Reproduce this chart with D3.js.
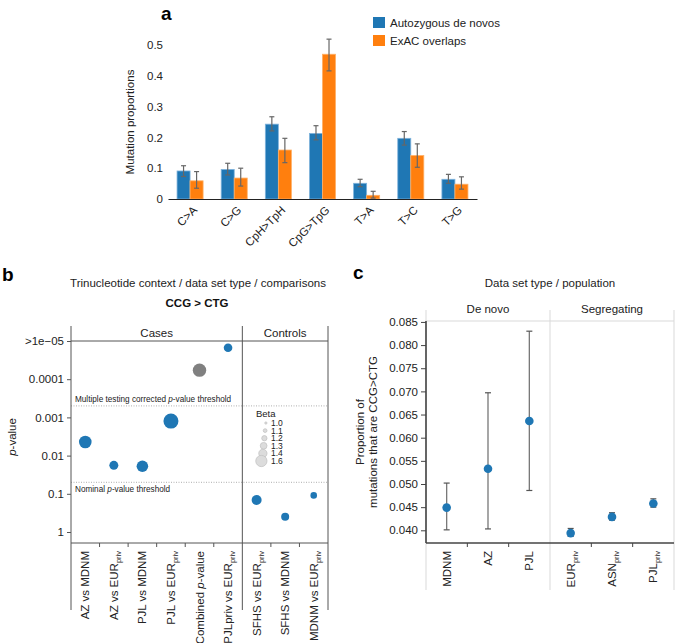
<!DOCTYPE html>
<html>
<head>
<meta charset="utf-8">
<script src="https://cdn.jsdelivr.net/npm/d3@7"></script>
<style>
body { margin: 0; background: #fff; }
svg { display: block; font-family: "Liberation Sans", Arial, Helvetica, sans-serif; }
</style>
</head>
<body>
<svg id="chart" width="675" height="643"></svg>
<script>
// ---------- Panel a data ----------
const mutCategories = ["C>A", "C>G", "CpH>TpH", "CpG>TpG", "T>A", "T>C", "T>G"];
const seriesNames = ["Autozygous de novos", "ExAC overlaps"];
const autozygous   = [0.091, 0.096, 0.243, 0.213, 0.051, 0.197, 0.064];
const autozygousLo = [0.073, 0.078, 0.221, 0.192, 0.040, 0.175, 0.051];
const autozygousHi = [0.108, 0.116, 0.267, 0.238, 0.064, 0.219, 0.080];
const exac   = [0.059, 0.068, 0.159, 0.470, 0.012, 0.141, 0.048];
const exacLo = [0.035, 0.042, 0.118, 0.416, 0.003, 0.103, 0.032];
const exacHi = [0.089, 0.100, 0.197, 0.519, 0.025, 0.179, 0.072];
const aTicks = [0, 0.1, 0.2, 0.3, 0.4, 0.5];

// ---------- Panel b data ----------
const comparisons = ["AZ vs MDNM", "AZ vs EURpriv", "PJL vs MDNM", "PJL vs EURpriv", "Combined p-value",
                     "PJLpriv vs EURpriv", "SFHS vs EURpriv", "SFHS vs MDNM", "MDNM vs EURpriv"];
const comparisonGroup = ["Cases", "Cases", "Cases", "Cases", "Cases", "Cases", "Controls", "Controls", "Controls"];
const pValues = [0.0044, 0.018, 0.019, 0.00125, 5.8e-5, 1.5e-5, 0.145, 0.40, 0.11];
const betas   = [1.48, 1.30, 1.43, 1.60, 1.52, 1.28, 1.35, 1.25, 1.18];
const isCombined = [false, false, false, false, true, false, false, false, false];
const pTicks = [1e-5, 1e-4, 1e-3, 1e-2, 1e-1, 1];
const pTickLabels = [">1e\u221205", "0.0001", "0.001", "0.01", "0.1", "1"];
const betaLegend = [1.0, 1.1, 1.2, 1.3, 1.4, 1.6];
const multipleThreshold = 0.0005;
const nominalThreshold = 0.05;

// ---------- Panel c data ----------
const populations = ["MDNM", "AZ", "PJL", "EURpriv", "ASNpriv", "PJLpriv"];
const popGroup = ["De novo", "De novo", "De novo", "Segregating", "Segregating", "Segregating"];
const propValues = [0.0449, 0.0533, 0.0636, 0.0394, 0.0429, 0.0458];
const propLo     = [0.0401, 0.0403, 0.0486, 0.0387, 0.0422, 0.0450];
const propHi     = [0.0502, 0.0697, 0.0830, 0.0404, 0.0438, 0.0468];
const cTicks = [0.040, 0.045, 0.050, 0.055, 0.060, 0.065, 0.070, 0.075, 0.080, 0.085];

const BLUE = "#1f77b4", ORANGE = "#ff7f0e", GRAY = "#808080";
const svg = d3.select("#chart");

// helper: write a label where trailing "priv" becomes a subscript
function labelWithSub(sel, label, mainSize, subSize) {
  const m = label.match(/^(.*?)(EUR|ASN|PJL)priv$/);
  const parts = m ? [{t: m[1] + m[2], sub: false}, {t: "priv", sub: true}] : [{t: label, sub: false}];
  parts.forEach(p => {
    const ts = sel.append("tspan").text(p.t);
    if (p.sub) ts.attr("font-size", subSize).attr("dy", 3);
  });
}

// ================= Panel a =================
(function () {
  const g = svg.append("g");
  g.append("text").attr("x", 161).attr("y", 20).attr("font-size", 19).attr("font-weight", "bold").text("a");

  const x = d3.scaleBand().domain(mutCategories).range([168, 477]).paddingInner(0.41).paddingOuter(0.205);
  const x1 = d3.scaleBand().domain(seriesNames).range([0, x.bandwidth()]);
  const y = d3.scaleLinear().domain([0, 0.5]).range([199, 45]);

  const yAxis = g.append("g").attr("transform", "translate(168,0)")
    .call(d3.axisLeft(y).tickValues(aTicks).tickSize(0).tickPadding(5).tickFormat(d => d === 0 ? "0" : d3.format(".1f")(d)));
  yAxis.select(".domain").remove();
  yAxis.selectAll("text").attr("font-size", 11.5).attr("fill", "#222").attr("font-family", null);

  g.append("text").attr("transform", "translate(134,122) rotate(-90)").attr("text-anchor", "middle")
    .attr("font-size", 11.5).attr("fill", "#222").text("Mutation proportions");

  const series = [
    {name: seriesNames[0], vals: autozygous, lo: autozygousLo, hi: autozygousHi, color: BLUE, stroke: "#7fb3dc"},
    {name: seriesNames[1], vals: exac, lo: exacLo, hi: exacHi, color: ORANGE, stroke: "#ffb066"}
  ];
  series.forEach(s => {
    mutCategories.forEach((c, i) => {
      const bx = x(c) + x1(s.name);
      g.append("rect").attr("x", bx).attr("y", y(s.vals[i])).attr("width", x1.bandwidth())
        .attr("height", y(0) - y(s.vals[i])).attr("fill", s.color).attr("stroke", s.stroke).attr("stroke-width", 0.8);
      const cx = bx + x1.bandwidth() / 2;
      g.append("line").attr("x1", cx).attr("x2", cx).attr("y1", y(s.lo[i])).attr("y2", y(s.hi[i]))
        .attr("stroke", "#666").attr("stroke-width", 1.2);
      [s.lo[i], s.hi[i]].forEach(v => g.append("line").attr("x1", cx - 2.5).attr("x2", cx + 2.5)
        .attr("y1", y(v)).attr("y2", y(v)).attr("stroke", "#666").attr("stroke-width", 1.2));
    });
  });

  const xAxis = g.append("g").attr("transform", "translate(0,199)")
    .call(d3.axisBottom(x).tickSize(0).tickPadding(0));
  xAxis.select(".domain").attr("stroke", "#222").attr("stroke-width", 1.2);
  xAxis.selectAll("text").attr("font-size", 11.5).attr("fill", "#222").attr("font-family", null)
    .attr("text-anchor", "end").attr("dy", null).attr("y", 0)
    .attr("transform", "translate(5,9) rotate(-45)").attr("dominant-baseline", "central");

  // legend
  series.forEach((s, i) => {
    g.append("rect").attr("x", 373).attr("y", 17 + i * 18).attr("width", 12).attr("height", 11).attr("fill", s.color);
    g.append("text").attr("x", 390).attr("y", 27 + i * 18).attr("font-size", 11.5).attr("fill", "#222").text(s.name);
  });
})();

// ================= Panel b =================
(function () {
  const g = svg.append("g");
  g.append("text").attr("x", 2).attr("y", 281).attr("font-size", 19).attr("font-weight", "bold").text("b");
  g.append("text").attr("x", 198).attr("y", 287).attr("text-anchor", "middle").attr("font-size", 11.5)
    .attr("fill", "#222").text("Trinucleotide context / data set type / comparisons");
  g.append("text").attr("x", 197).attr("y", 307).attr("text-anchor", "middle").attr("font-size", 11.5)
    .attr("font-weight", "bold").attr("fill", "#111").text("CCG > CTG");

  const x = d3.scaleBand().domain(comparisons).range([71, 328]);
  const y = d3.scaleLog().domain([1e-5, 1.94]).range([341, 543]);
  const r = d3.scaleLinear().domain([1.0, 1.6]).range([1.5, 7.5]);
  const LINE = "#555";
  const bottom = 543, top = 341, headTop = 326, lineEnd = 610;
  const divX = x(comparisons[6]);

  // threshold lines
  [multipleThreshold, nominalThreshold].forEach(t => {
    g.append("line").attr("x1", 71).attr("x2", 328).attr("y1", y(t)).attr("y2", y(t))
      .attr("stroke", "#999").attr("stroke-width", 0.8).attr("stroke-dasharray", "1,1.5");
  });
  const t1 = g.append("text").attr("x", 75).attr("y", y(multipleThreshold) - 4).attr("font-size", 8.2).attr("fill", "#222");
  t1.append("tspan").text("Multiple testing corrected ");
  t1.append("tspan").attr("font-style", "italic").text("p");
  t1.append("tspan").text("-value threshold");
  const t2 = g.append("text").attr("x", 75).attr("y", y(nominalThreshold) + 10).attr("font-size", 8.2).attr("fill", "#222");
  t2.append("tspan").text("Nominal ");
  t2.append("tspan").attr("font-style", "italic").text("p");
  t2.append("tspan").text("-value threshold");

  // frame
  [71, divX, 328].forEach(xx => g.append("line").attr("x1", xx).attr("x2", xx).attr("y1", headTop).attr("y2", lineEnd)
    .attr("stroke", LINE).attr("stroke-width", 1));
  [top, bottom].forEach(yy => g.append("line").attr("x1", 71).attr("x2", 328).attr("y1", yy).attr("y2", yy)
    .attr("stroke", LINE).attr("stroke-width", 1));
  g.append("text").attr("x", (71 + divX) / 2).attr("y", 337).attr("text-anchor", "middle").attr("font-size", 11.5).attr("fill", "#222").text("Cases");
  g.append("text").attr("x", (divX + 328) / 2).attr("y", 337).attr("text-anchor", "middle").attr("font-size", 11.5).attr("fill", "#222").text("Controls");

  // y axis
  const yAxis = g.append("g").attr("transform", "translate(71,0)")
    .call(d3.axisLeft(y).tickValues(pTicks).tickSize(4).tickPadding(3).tickFormat((d, i) => pTickLabels[i]));
  yAxis.select(".domain").remove();
  yAxis.selectAll("line").attr("stroke", LINE);
  yAxis.selectAll("text").attr("font-size", 11.5).attr("fill", "#222").attr("font-family", null);
  const yl = g.append("text").attr("transform", "translate(16,437) rotate(-90)").attr("text-anchor", "middle")
    .attr("font-size", 11.5).attr("fill", "#222");
  yl.append("tspan").attr("font-style", "italic").text("p");
  yl.append("tspan").text("-value");

  // x ticks at band boundaries
  comparisons.slice(1).forEach(c => {
    const xx = x(c);
    if (xx === divX) return;
    g.append("line").attr("x1", xx).attr("x2", xx).attr("y1", bottom).attr("y2", bottom + 4).attr("stroke", LINE);
  });
  // x labels
  comparisons.forEach(c => {
    const cx = x(c) + x.bandwidth() / 2;
    const t = g.append("text").attr("transform", `translate(${cx + 4},${bottom + 8}) rotate(-90)`)
      .attr("text-anchor", "end").attr("font-size", 11.5).attr("fill", "#222");
    if (c === "Combined p-value") {
      t.append("tspan").text("Combined ");
      t.append("tspan").attr("font-style", "italic").text("p");
      t.append("tspan").text("-value");
    } else if (c === "PJLpriv vs EURpriv") {
      t.append("tspan").text("PJLpriv vs EUR");
      t.append("tspan").attr("font-size", 7.5).attr("dy", 3).text("priv");
    } else {
      labelWithSub(t, c, 11.5, 7.5);
    }
  });

  // points
  comparisons.forEach((c, i) => {
    g.append("circle").attr("cx", x(c) + x.bandwidth() / 2).attr("cy", y(pValues[i])).attr("r", r(betas[i]))
      .attr("fill", isCombined[i] ? GRAY : BLUE);
  });

  // beta legend
  g.append("text").attr("x", 256).attr("y", 417).attr("font-size", 9.5).attr("fill", "#222").text("Beta");
  betaLegend.forEach((b, i) => {
    const yy = 423 + i * 7.6;
    const rr = r(b) * 0.75;
    g.append("circle").attr("cx", 267 - rr).attr("cy", yy).attr("r", rr)
      .attr("fill", "#dcdcdc").attr("stroke", "#c4c4c4").attr("stroke-width", 0.8);
  });
  betaLegend.forEach((b, i) => {
    g.append("text").attr("x", 271).attr("y", 423 + i * 7.6 + 3).attr("font-size", 8.5).attr("fill", "#222")
      .text(d3.format(".1f")(b));
  });
})();

// ================= Panel c =================
(function () {
  const g = svg.append("g");
  g.append("text").attr("x", 353).attr("y", 279).attr("font-size", 19).attr("font-weight", "bold").text("c");
  g.append("text").attr("x", 550).attr("y", 287).attr("text-anchor", "middle").attr("font-size", 11.5)
    .attr("fill", "#222").text("Data set type / population");

  const x = d3.scaleBand().domain(populations).range([426, 674]);
  const y = d3.scaleLinear().domain([0.03726, 0.0852]).range([543, 321]);
  const divX = x(populations[3]);
  const LIGHT = "#d9d9d9";

  [426, divX, 674].forEach(xx => g.append("line").attr("x1", xx).attr("x2", xx).attr("y1", 310).attr("y2", 590)
    .attr("stroke", LIGHT).attr("stroke-width", 1));
  g.append("line").attr("x1", 426).attr("x2", 674).attr("y1", 321).attr("y2", 321).attr("stroke", LIGHT);
  g.append("text").attr("x", (426 + divX) / 2).attr("y", 313).attr("text-anchor", "middle").attr("font-size", 11.5).attr("fill", "#222").text("De novo");
  g.append("text").attr("x", (divX + 674) / 2).attr("y", 313).attr("text-anchor", "middle").attr("font-size", 11.5).attr("fill", "#222").text("Segregating");

  const yAxis = g.append("g").attr("transform", "translate(426,0)")
    .call(d3.axisLeft(y).tickValues(cTicks).tickSize(5).tickPadding(3).tickFormat(d3.format(".3f")));
  yAxis.select(".domain").attr("d", `M0,${y(0.0852)}V543`).attr("stroke", "#444").attr("stroke-width", 1.6);
  yAxis.selectAll("line").attr("stroke", "#444");
  yAxis.selectAll("text").attr("font-size", 11.5).attr("fill", "#222").attr("font-family", null);

  const xAxis = g.append("g").attr("transform", "translate(0,543)")
    .call(d3.axisBottom(x).tickSize(0).tickFormat(""));
  xAxis.select(".domain").attr("d", "M426,0H674").attr("stroke", "#444").attr("stroke-width", 1.6);
  populations.slice(1).forEach(p => {
    if (x(p) === divX) return;
    g.append("line").attr("x1", x(p)).attr("x2", x(p)).attr("y1", 543).attr("y2", 547).attr("stroke", "#444");
  });
  populations.forEach(p => {
    const cx = x(p) + x.bandwidth() / 2;
    const t = g.append("text").attr("transform", `translate(${cx + 4},${551}) rotate(-90)`)
      .attr("text-anchor", "end").attr("font-size", 11.5).attr("fill", "#222");
    labelWithSub(t, p, 11.5, 7.5);
  });

  const yl = g.append("text").attr("transform", "translate(364,432) rotate(-90)").attr("text-anchor", "middle")
    .attr("font-size", 11.5).attr("fill", "#222");
  yl.append("tspan").attr("x", 0).attr("dy", 0).text("Proportion of");
  yl.append("tspan").attr("x", 0).attr("dy", 13).text("mutations that are CCG>CTG");

  populations.forEach((p, i) => {
    const cx = x(p) + x.bandwidth() / 2;
    g.append("line").attr("x1", cx).attr("x2", cx).attr("y1", y(propLo[i])).attr("y2", y(propHi[i]))
      .attr("stroke", "#777").attr("stroke-width", 1.3);
    [propLo[i], propHi[i]].forEach(v => g.append("line").attr("x1", cx - 3).attr("x2", cx + 3)
      .attr("y1", y(v)).attr("y2", y(v)).attr("stroke", "#555").attr("stroke-width", 1.2));
    g.append("circle").attr("cx", cx).attr("cy", y(propValues[i])).attr("r", 4.3).attr("fill", BLUE);
  });
})();
</script>
</body>
</html>
